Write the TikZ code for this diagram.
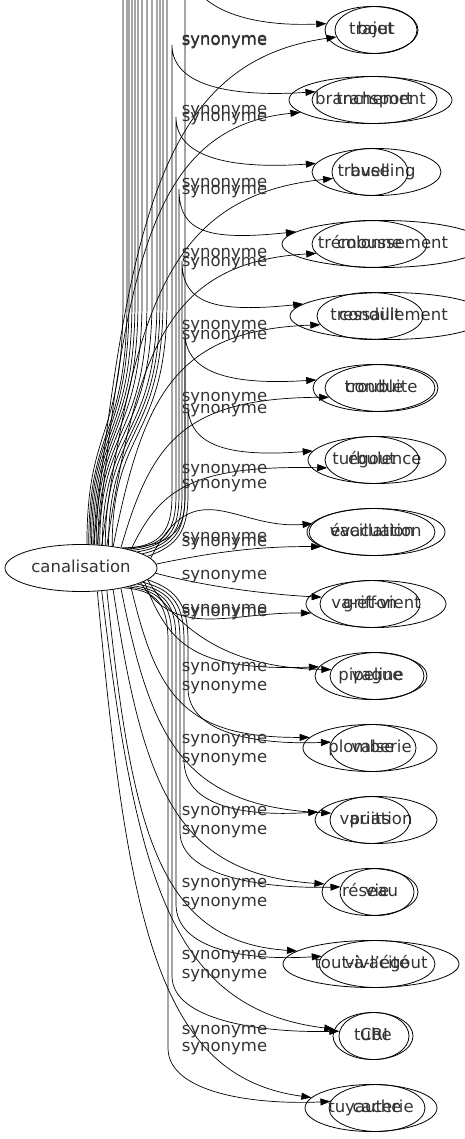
\documentclass[tikz,border=0pt]{standalone}
\usepackage{fontspec}
\setmainfont{DejaVu Sans}
\usetikzlibrary{shapes.geometric,arrows.meta}
\begin{document}
\begin{tikzpicture}[x=1pt,y=-1pt,
  every node/.style={font=\fontsize{16.5}{18}\selectfont, text=black!80},
  word/.style={ellipse, draw, inner sep=0pt, minimum height=47pt, line width=0.8pt, text height=12pt, text depth=3.5pt},
  lab/.style={inner sep=0pt, text height=12pt, text depth=3.5pt},
  edge/.style={draw, line width=0.7pt, -{Triangle[length=10pt,width=7pt]}},
  plain/.style={draw, line width=0.7pt}]
\useasboundingbox (0,0) rectangle (464,1139);
\node[word, minimum width=152pt] (canal) at (81,568) {canalisation};
% graph A
\node[word, minimum width=93pt]  (a1)  at (371.5,30)  {trajet};
\node[word, minimum width=125pt] (a2)  at (374.5,100) {transport};
\node[word, minimum width=129pt] (a3)  at (376.5,172) {travelling};
\node[word, minimum width=202pt] (a4)  at (383,244)   {trémoussement};
\node[word, minimum width=198pt] (a5)  at (389,316)   {tressaillement};
\node[word, minimum width=122pt] (a6)  at (374,388)   {trouble};
\node[word, minimum width=138pt] (a7)  at (377,460)   {turbulence};
\node[word, minimum width=126pt] (a8)  at (372,532)   {vacillation};
\node[word, minimum width=140pt] (a9)  at (376,604)   {va-et-vient};
\node[word, minimum width=94pt]  (a10) at (377,676)   {vague};
\node[word, minimum width=86pt]  (a11) at (373,748)   {valse};
\node[word, minimum width=122pt] (a12) at (376,820)   {variation};
\node[word, minimum width=74pt]  (a13) at (377,892)   {vie};
\node[word, minimum width=116pt] (a14) at (377,964)   {vivacité};
\node[word, minimum width=70pt]  (a15) at (374,1036)  {CRI};
\node[word, minimum width=96pt]  (a16) at (377,1108)  {cache};
% graph B
\node[word, minimum width=82pt]  (b1)  at (376,30)    {bout};
\node[word, minimum width=163pt] (b2)  at (370.5,100) {branchement};
\node[word, minimum width=76pt]  (b3)  at (370,172)   {buse};
\node[word, minimum width=115pt] (b4)  at (369.5,244) {colonne};
\node[word, minimum width=106pt] (b5)  at (370,316)   {conduit};
\node[word, minimum width=113pt] (b6)  at (381.5,388) {conduite};
\node[word, minimum width=94pt]  (b7)  at (372,460)   {égout};
\node[word, minimum width=138pt] (b8)  at (376,532)   {évacuation};
\node[word, minimum width=100pt] (b9)  at (370,604)   {griffon};
\node[word, minimum width=112pt] (b10) at (371,676)   {pipeline};
\node[word, minimum width=134pt] (b11) at (370,748)   {plomberie};
\node[word, minimum width=80pt]  (b12) at (370,820)   {puits};
\node[word, minimum width=96pt]  (b13) at (370,892)   {réseau};
\node[word, minimum width=176pt] (b14) at (371,964)   {tout-à-l'égout};
\node[word, minimum width=80pt]  (b15) at (373,1036)  {tube};
\node[word, minimum width=132pt] (b16) at (371,1108)  {tuyauterie};
% edges leaving the top
\foreach \k/\t/\xt in {1/76/123,2/72/127,3/69/129,4/66/132,5/63/135,6/60/138,7/57/142,8/54/147,9/51/152,10/47/157,11/43/160,12/39/163,13/35/167}{
  \coordinate (top\k) at (\xt,-20);
  \draw[plain] (canal.\t) .. controls +(0,-120) and +(0,140) .. (\xt,300) -- (top\k);
}
% upper A edges
\draw[edge] (canal.26) .. controls (175,546) and (185,530) .. (185,495) -- (185,-45) .. controls (185,10) and (250,27) .. (a1.172);
\draw[edge] (canal.24) .. controls (162,546) and (172,530) .. (172,495) -- (172,45) .. controls (172,88) and (237,97) .. (a2.172);
\draw[edge] (canal.22) .. controls (166,546) and (176,530) .. (176,495) -- (176,117) .. controls (176,160) and (237,169) .. (a3.172);
\draw[edge] (canal.19) .. controls (169,546) and (179,530) .. (179,495) -- (179,189) .. controls (179,232) and (207,241) .. (a4.172);
\draw[edge] (canal.16) .. controls (172,546) and (182,530) .. (182,495) -- (182,261) .. controls (182,304) and (215,313) .. (a5.172);
\draw[edge] (canal.13) .. controls (175,546) and (185,530) .. (185,495) -- (185,333) .. controls (185,376) and (238,385) .. (a6.172);
\draw[edge] (canal.10) .. controls (178,546) and (188,530) .. (188,495) -- (188,405) .. controls (188,448) and (233,457) .. (a7.172);
% upper B edges
\draw[edge] (canal.62) .. controls (129,211) and (166,61)  .. (b1.190);
\draw[edge] (canal.55) .. controls (126,257) and (155,127) .. (b2.190);
\draw[edge] (canal.48) .. controls (136,304) and (170,195) .. (b3.190);
\draw[edge] (canal.41) .. controls (137,350) and (168,262) .. (b4.190);
\draw[edge] (canal.34) .. controls (143,397) and (174,330) .. (b5.190);
\draw[edge] (canal.27) .. controls (151,444) and (182,398) .. (b6.190);
\draw[edge] (canal.20) .. controls (159,491) and (189,465) .. (b7.190);
% middle rows
\draw[edge] (canal.8) .. controls (195,470) and (235,530) .. (a8.172);
\draw[edge] (canal.3) .. controls (200,555) and (250,546) .. (b8.195);
\draw[edge] (canal.-14) .. controls (178,640) and (230,612) .. (a9.188);
\draw[edge] (canal.-4) .. controls (200,585) and (260,594) .. (b9.172);
\draw[edge] (canal.-10) .. controls (185,640) and (240,668) .. (a10.172);
\draw[edge] (canal.-12) .. controls (169,646) and (195,671) .. (b10.170);
% lower A edges
\draw[edge] (canal.-10) .. controls (178,590) and (188,606) .. (188,641) -- (188,688) .. controls (188,733) and (255,745) .. (a11.172);
\draw[edge] (canal.-13) .. controls (174,590) and (184,606) .. (184,641) -- (184,760) .. controls (184,805) and (240,817) .. (a12.172);
\draw[edge] (canal.-16) .. controls (170,590) and (180,606) .. (180,641) -- (180,832) .. controls (180,877) and (265,889) .. (a13.172);
\draw[edge] (canal.-19) .. controls (166,590) and (176,606) .. (176,641) -- (176,904) .. controls (176,949) and (244,961) .. (a14.172);
\draw[edge] (canal.-22) .. controls (162,590) and (172,606) .. (172,641) -- (172,976) .. controls (172,1021) and (264,1033) .. (a15.172);
\draw[edge] (canal.-25) .. controls (158,590) and (168,606) .. (168,641) -- (168,1048) .. controls (168,1093) and (254,1105) .. (a16.172);
% lower B edges
\draw[edge] (canal.-20) .. controls (156,693) and (182,738) .. (b11.170);
\draw[edge] (canal.-27) .. controls (151,740) and (183,806) .. (b12.170);
\draw[edge] (canal.-34) .. controls (143,786) and (175,874) .. (b13.170);
\draw[edge] (canal.-41) .. controls (132,833) and (159,942) .. (b14.170);
\draw[edge] (canal.-48) .. controls (136,880) and (171,1009) .. (b15.170);
\draw[edge] (canal.-55) .. controls (128,927) and (159,1077) .. (b16.170);
% labels
\foreach \k/\ly in {1/40,2/41,3/110,4/117,5/183,6/190,7/253,8/262,9/325,10/335,11/397,12/409,13/469,14/484,15/537,16/542,17/575,18/609,19/612,20/667,21/686,22/739,23/758,24/811,25/830,26/883,27/902,28/955,29/974,30/1030,31/1047}{
  \node[lab] (l\k) at (224.5,\ly) {synonyme};
}
\end{tikzpicture}
\end{document}
